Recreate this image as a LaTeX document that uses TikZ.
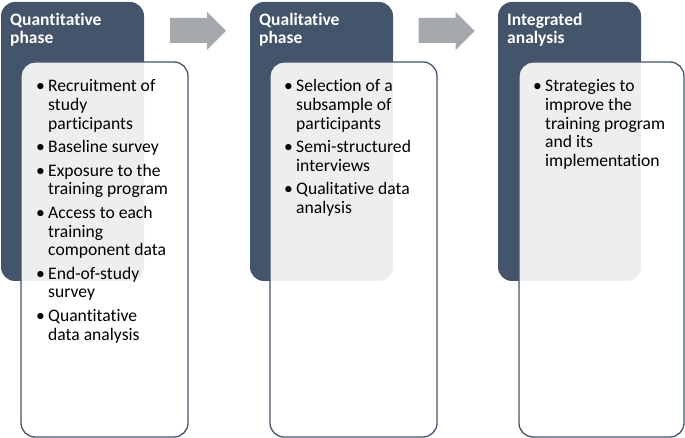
\documentclass[tikz,border=0pt]{standalone}
\usepackage{fontspec}
\setmainfont{Carlito}[Ligatures={NoCommon}]
\definecolor{slate}{HTML}{44546A}
\definecolor{arrowgray}{HTML}{A5A9AE}
\newcommand\itembul{\makebox[12pt][l]{\textbullet}}
\tikzset{
  darkbox/.style={fill=slate, draw=none, rounded corners=14pt, anchor=north west, inner sep=0pt, outer sep=0pt},
  listbox/.style={fill=white, fill opacity=0.9, draw=slate, line width=1.3pt, rounded corners=14pt, anchor=north west, inner sep=0pt, outer sep=0pt},
  headtxt/.style={text=white, font=\fontsize{17.5}{18}\selectfont\bfseries, anchor=base west, inner sep=0pt},
  listtxt/.style={text=black, font=\fontsize{17.6}{18.6}\selectfont, anchor=base west, inner sep=0pt},
  blockarrow/.style={fill=arrowgray, draw=none}
}
\begin{document}
\begin{tikzpicture}[x=1pt, y=-1pt]
\useasboundingbox (0,0) rectangle (685,438);
% column 1
\node[darkbox, minimum width=143pt, minimum height=279pt] (h1) at (1,2) {};
\node[listbox, minimum width=167pt, minimum height=375pt] (b1) at (21,62) {};
\node[headtxt] (t1) at (10,26) {\begin{tabular}[t]{@{}l@{}}Quantitative\\phase\end{tabular}};
\node[listtxt] (l1) at (36,92) {\begin{tabular}[t]{@{}l@{}l@{}}
\itembul & Recruitment of\\ & study\\ & participants\\[5pt]
\itembul & Baseline survey\\[5pt]
\itembul & Exposure to the\\ & training program\\[5pt]
\itembul & Access to each\\ & training\\ & component data\\[5pt]
\itembul & End-of-study\\ & survey\\[5pt]
\itembul & Quantitative\\ & data analysis
\end{tabular}};
% column 2
\node[darkbox, minimum width=143pt, minimum height=279pt] (h2) at (250,2) {};
\node[listbox, minimum width=167pt, minimum height=375pt] (b2) at (270,62) {};
\node[headtxt] (t2) at (259,26) {\begin{tabular}[t]{@{}l@{}}Qualitative\\phase\end{tabular}};
\node[listtxt] (l2) at (284,92) {\begin{tabular}[t]{@{}l@{}l@{}}
\itembul & Selection of a\\ & subsample of\\ & participants\\[5pt]
\itembul & Semi-structured\\ & interviews\\[5pt]
\itembul & Qualitative data\\ & analysis
\end{tabular}};
% column 3
\node[darkbox, minimum width=143pt, minimum height=279pt] (h3) at (498,2) {};
\node[listbox, minimum width=165pt, minimum height=375pt] (b3) at (519,62) {};
\node[headtxt] (t3) at (507,26) {\begin{tabular}[t]{@{}l@{}}Integrated\\analysis\end{tabular}};
\node[listtxt] (l3) at (533,92) {\begin{tabular}[t]{@{}l@{}l@{}}
\itembul & Strategies to\\ & improve the\\ & training program\\ & and its\\ & implementation
\end{tabular}};
% arrows
\fill[blockarrow] (170,18) -- (207,18) -- (207,12) -- (226,31) -- (207,50) -- (207,43) -- (170,43) -- cycle;
\fill[blockarrow] (418.5,18) -- (455.5,18) -- (455.5,12) -- (474.5,31) -- (455.5,50) -- (455.5,43) -- (418.5,43) -- cycle;
\end{tikzpicture}
\end{document}
